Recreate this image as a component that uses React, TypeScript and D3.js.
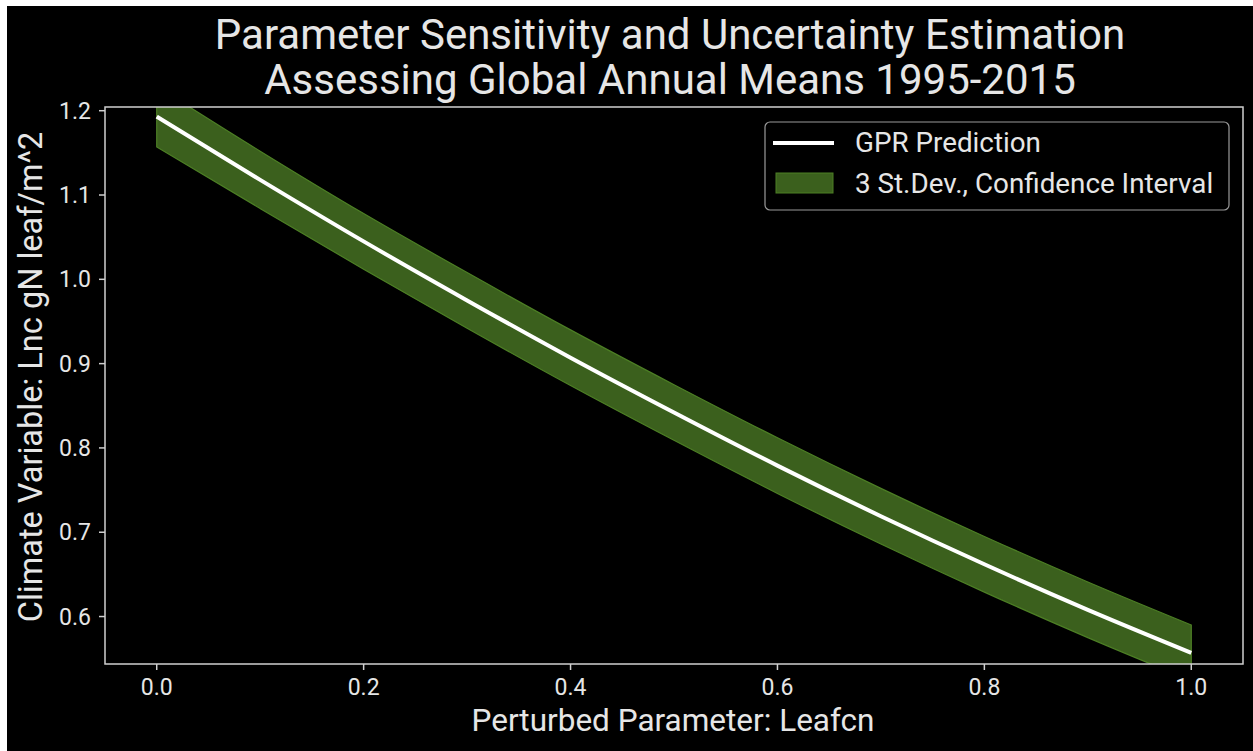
import React from "react";
import * as d3 from "d3";

const xs = [0, 0.1, 0.2, 0.3, 0.4, 0.5, 0.6, 0.7, 0.8, 0.9, 1.0];
const mean = [1.193, 1.118, 1.045, 0.975, 0.907, 0.842, 0.779, 0.719, 0.662, 0.608, 0.557];
const lower = [1.157, 1.084, 1.012, 0.942, 0.874, 0.809, 0.746, 0.686, 0.629, 0.575, 0.524];
const upper = [1.229, 1.152, 1.078, 1.008, 0.940, 0.875, 0.812, 0.752, 0.695, 0.641, 0.590];
const xTicks = [0.0, 0.2, 0.4, 0.6, 0.8, 1.0];
const yTicks = [0.6, 0.7, 0.8, 0.9, 1.0, 1.1, 1.2];
const titleLines = [
  "Parameter Sensitivity and Uncertainty Estimation",
  "Assessing Global Annual Means 1995-2015",
];
const xLabel = "Perturbed Parameter: Leafcn";
const yLabel = "Climate Variable: Lnc gN leaf/m^2";
const legendItems = ["GPR Prediction", "3 St.Dev., Confidence Interval"];

const W = 1253;
const H = 751;
const L = 105, R = 1243, T = 107, B = 664;
const font = "Roboto, 'Noto Sans', sans-serif";
const axisColor = "#cfcfcf";
const textColor = "#e6e6e6";
const bandFill = "#3b601d";
const bandStroke = "#4d7f25";

export default function App() {
  const x = d3.scaleLinear().domain([-0.05, 1.05]).range([L, R]);
  const y = d3.scaleLinear().domain([0.5437, 1.2044]).range([B, T]);
  const pts = xs.map((v, i) => ({ x: v, m: mean[i], lo: lower[i], hi: upper[i] }));
  const area = d3
    .area<any>()
    .x((d) => x(d.x))
    .y0((d) => y(d.lo))
    .y1((d) => y(d.hi))
    .curve(d3.curveMonotoneX);
  const line = d3
    .line<any>()
    .x((d) => x(d.x))
    .y((d) => y(d.m))
    .curve(d3.curveMonotoneX);

  return (
    <svg width={W} height={H} style={{ display: "block", position: "absolute", left: 0, top: 0 }}>
      <rect x={0} y={0} width={W} height={H} fill="#ffffff" />
      <rect x={7} y={6} width={W - 7} height={H - 6} fill="#000000" />
      <defs>
        <clipPath id="plotclip">
          <rect x={L} y={T} width={R - L} height={B - T} />
        </clipPath>
      </defs>
      {titleLines.map((t, i) => (
        <text
          key={i}
          x={670}
          y={49 + i * 45}
          fill={textColor}
          fontFamily={font}
          fontSize={42}
          textAnchor="middle"
        >
          {t}
        </text>
      ))}
      <g clipPath="url(#plotclip)">
        <path d={area(pts) || ""} fill={bandFill} stroke={bandStroke} strokeWidth={1.2} />
        <path d={line(pts) || ""} fill="none" stroke="#ffffff" strokeWidth={4} />
      </g>
      <rect x={L} y={T} width={R - L} height={B - T} fill="none" stroke={axisColor} strokeWidth={1.5} />
      {xTicks.map((t) => (
        <g key={"x" + t}>
          <line x1={x(t)} x2={x(t)} y1={B} y2={B + 6} stroke={axisColor} strokeWidth={1.5} />
          <text
            x={x(t)}
            y={695}
            fill={textColor}
            fontFamily={font}
            fontSize={23}
            textAnchor="middle"
          >
            {t.toFixed(1)}
          </text>
        </g>
      ))}
      {yTicks.map((t) => (
        <g key={"y" + t}>
          <line x1={L - 6} x2={L} y1={y(t)} y2={y(t)} stroke={axisColor} strokeWidth={1.5} />
          <text
            x={91}
            y={y(t) + 8}
            fill={textColor}
            fontFamily={font}
            fontSize={23}
            textAnchor="end"
          >
            {t.toFixed(1)}
          </text>
        </g>
      ))}
      <text
        x={673}
        y={731}
        fill={textColor}
        fontFamily={font}
        fontSize={31.5}
        textAnchor="middle"
      >
        {xLabel}
      </text>
      <text
        transform={`translate(42, 377) rotate(-90)`}
        fill={textColor}
        fontFamily={font}
        fontSize={32.5}
        textAnchor="middle"
      >
        {yLabel}
      </text>
      <g>
        <rect x={765} y={122} width={464} height={88} rx={5} fill="#000000" stroke="#9a9a9a" strokeWidth={1.2} />
        <line x1={773} x2={834} y1={143} y2={143} stroke="#ffffff" strokeWidth={4} />
        <rect x={776} y={173} width={57} height={20} fill={bandFill} stroke={bandStroke} strokeWidth={1} />
        {legendItems.map((t, i) => (
          <text
            key={t}
            x={855}
            y={152 + i * 41}
            fill={textColor}
            fontFamily={font}
            fontSize={27.8}
          >
            {t}
          </text>
        ))}
      </g>
    </svg>
  );
}
